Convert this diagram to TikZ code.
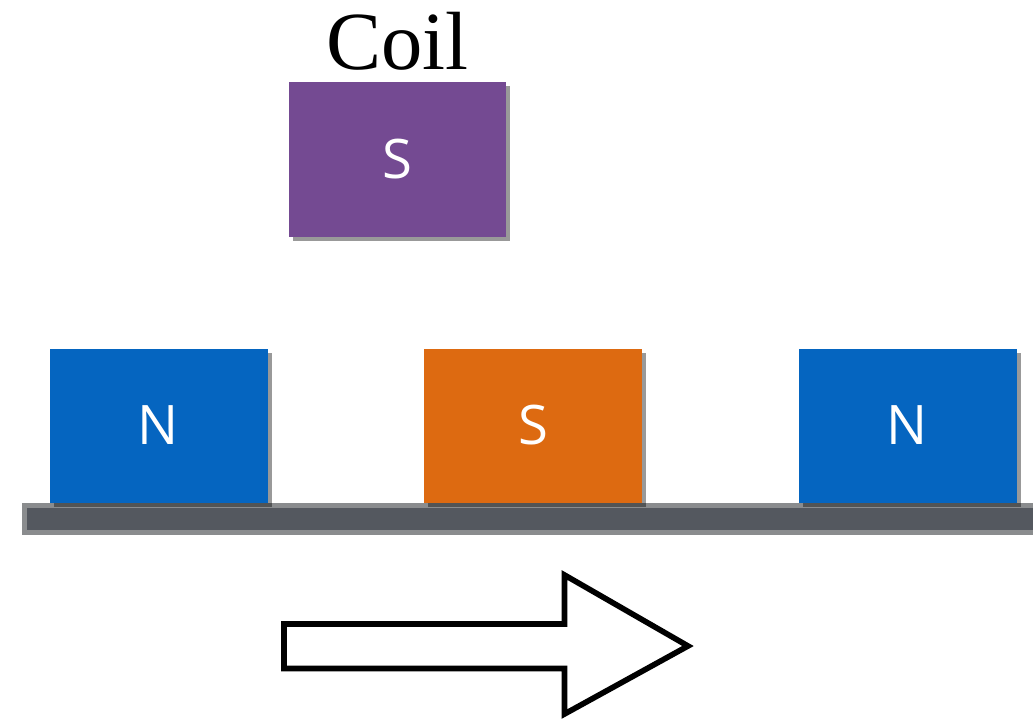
\documentclass[tikz,border=0pt]{standalone}
\usepackage{fontspec}
\setmainfont{Liberation Serif}
\newfontfamily\polefont{Open Sans}
\usetikzlibrary{positioning, shadows}

\definecolor{poleblue}{HTML}{0565C0}
\definecolor{poleorange}{HTML}{DD6A11}
\definecolor{coilpurple}{HTML}{744A92}
\definecolor{railedge}{HTML}{8A8C8E}
\definecolor{railcore}{HTML}{54585F}

\begin{document}
\begin{tikzpicture}[
    pole/.style={draw=none, text=white, inner sep=0pt,
                 minimum width=2.18cm, minimum height=1.54cm,
                 font=\polefont\fontsize{15.5}{18}\selectfont,
                 drop shadow={shadow xshift=0.04cm, shadow yshift=-0.04cm,
                              opacity=0.4, fill=black}},
    outline/.style={draw=black, line width=1.6pt, fill=white}
]
\useasboundingbox (0,0) rectangle (10.33,7.18);
\clip (0,0) rectangle (10.33,7.18);

% rail under the magnets
\fill[railedge] (0.22,1.83) rectangle (10.60,2.15);
\fill[railcore] (0.27,1.88) rectangle (10.60,2.10);

% magnets on the rail
\node[pole, fill=poleblue]   (north1) at (1.585,2.925) {N};
\node[pole, fill=poleorange] (south)  at (5.330,2.925) {S};
\node[pole, fill=poleblue]   (north2) at (9.075,2.925) {N};

% coil above
\node[pole, fill=coilpurple, minimum width=2.17cm, minimum height=1.55cm] (coil) at (3.975,5.585) {S};
\node[inner sep=0pt, above=0.1cm of coil, font=\fontsize{23.5}{28}\selectfont] (coiltext) {Coil};

% direction of motion
\draw[outline] (2.84,0.94) -- (5.645,0.94) -- (5.645,1.43) -- (6.88,0.72)
    -- (5.645,0.04) -- (5.645,0.495) -- (2.84,0.495) -- cycle;
\end{tikzpicture}
\end{document}
